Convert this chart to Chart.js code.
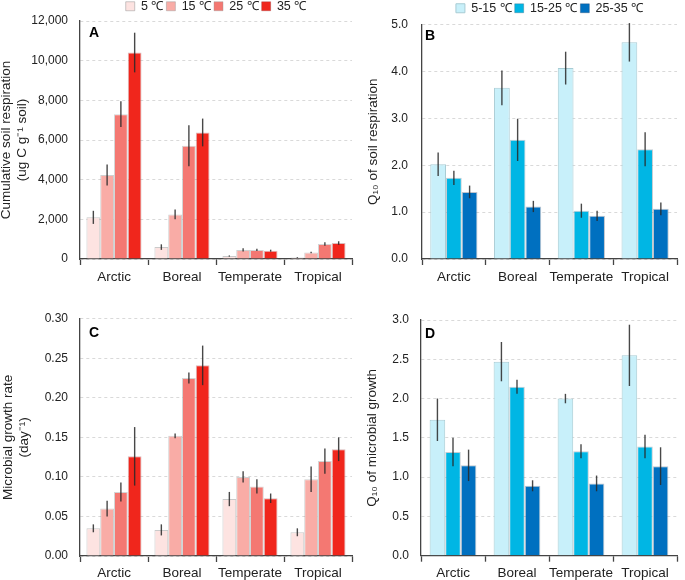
<!DOCTYPE html>
<html>
<head>
<meta charset="utf-8">
<script src="https://cdn.jsdelivr.net/npm/chart.js@4.4.1/dist/chart.umd.min.js"></script>
<style>
  body { margin: 0; background: #fff; }
  #wrap { position: relative; width: 685px; height: 580px; overflow: hidden; }
  canvas { position: absolute; }
</style>
</head>
<body>
<div id="wrap">
  <canvas id="chartA" width="356" height="290" style="left:0px;top:0px"></canvas>
  <canvas id="chartB" width="345" height="290" style="left:340px;top:0px"></canvas>
  <canvas id="chartC" width="356" height="290" style="left:0px;top:290px"></canvas>
  <canvas id="chartD" width="345" height="290" style="left:340px;top:290px"></canvas>
</div>
<script>
const sites = ["Arctic", "Boreal", "Temperate", "Tropical"]
const tempLabels = ["5 ℃", "15 ℃", "25 ℃", "35 ℃"]
const rangeLabels = ["5-15 ℃", "15-25 ℃", "25-35 ℃"]

// A - cumulative soil respiration
const resp5 = [2100, 600, 150, 80]
const resp15 = [4230, 2250, 460, 330]
const resp25 = [7300, 5710, 460, 755]
const resp35 = [10410, 6380, 420, 805]
const respErr5 = [330, 140, 30, 20]
const respErr15 = [530, 250, 80, 40]
const respErr25 = [650, 1030, 60, 90]
const respErr35 = [1000, 700, 50, 90]

// B - Q10 of soil respiration
const q10Resp1 = [2.02, 3.65, 4.07, 4.62]
const q10Resp2 = [1.73, 2.54, 1.03, 2.34]
const q10Resp3 = [1.43, 1.12, 0.92, 1.07]
const q10RespErr1 = [0.25, 0.37, 0.35, 0.41]
const q10RespErr2 = [0.15, 0.45, 0.15, 0.36]
const q10RespErr3 = [0.135, 0.12, 0.11, 0.135]

// C - microbial growth rate
const growth5 = [0.035, 0.033, 0.072, 0.030]
const growth15 = [0.060, 0.152, 0.100, 0.097]
const growth25 = [0.081, 0.225, 0.088, 0.120]
const growth35 = [0.126, 0.241, 0.073, 0.135]
const growthErr5 = [0.005, 0.007, 0.009, 0.005]
const growthErr15 = [0.010, 0.003, 0.007, 0.016]
const growthErr25 = [0.012, 0.007, 0.009, 0.016]
const growthErr35 = [0.037, 0.025, 0.006, 0.015]

// D - Q10 of microbial growth
const q10Growth1 = [1.73, 2.47, 2.00, 2.55]
const q10Growth2 = [1.32, 2.15, 1.33, 1.39]
const q10Growth3 = [1.15, 0.89, 0.92, 1.14]
const q10GrowthErr1 = [0.27, 0.25, 0.06, 0.39]
const q10GrowthErr2 = [0.18, 0.09, 0.09, 0.15]
const q10GrowthErr3 = [0.20, 0.07, 0.10, 0.24]

const reds = ["#FDE3E1", "#F9ACA6", "#F47872", "#F0261C"]
const redBorders = ["rgba(150,150,150,0.5)", "rgba(150,150,150,0.45)", "rgba(150,150,150,0.4)", "rgba(150,60,60,0.35)"]
const blues = ["#C8F0FA", "#00B6E4", "#0070C0"]
const blueBorders = ["#A8CCD4", "rgba(60,90,110,0.3)", "rgba(40,60,90,0.3)"]

const FONT = "Arial, 'Liberation Sans', sans-serif"
Chart.defaults.font.family = FONT
Chart.defaults.color = "#333"

// vertical error bars on top of each bar
const errorBars = {
  id: "errorBars",
  afterDatasetsDraw(chart) {
    const ctx = chart.ctx
    const y = chart.scales.y
    ctx.save()
    ctx.strokeStyle = "rgba(40,40,40,0.85)"
    ctx.lineWidth = 1.4
    chart.data.datasets.forEach((ds, i) => {
      const meta = chart.getDatasetMeta(i)
      meta.data.forEach((bar, j) => {
        const v = ds.data[j], e = ds.errors[j]
        ctx.beginPath()
        ctx.moveTo(bar.x, y.getPixelForValue(v + e))
        ctx.lineTo(bar.x, y.getPixelForValue(v - e))
        ctx.stroke()
      })
    })
    ctx.restore()
  }
}

const panelLetter = {
  id: "panelLetter",
  afterDraw(chart, args, opts) {
    const ctx = chart.ctx
    const a = chart.chartArea
    ctx.save()
    ctx.font = "bold 14px " + FONT
    ctx.fillStyle = "#000"
    ctx.textBaseline = "middle"
    ctx.fillText(opts.text, a.left + opts.dx, a.top + opts.dy)
    ctx.restore()
  }
}

function makeDatasets(labels, values, errors, colors, borders) {
  return labels.map((l, i) => ({
    label: l,
    data: values[i],
    errors: errors[i],
    backgroundColor: colors[i],
    borderColor: borders[i],
    borderWidth: 1
  }))
}

function makeChart(id, p) {
  return new Chart(id, {
    type: "bar",
    data: { labels: sites, datasets: p.datasets },
    plugins: [errorBars, panelLetter],
    options: {
      responsive: false,
      animation: false,
      devicePixelRatio: 1,
      layout: { padding: { left: 0, right: p.padRight, top: p.padTop, bottom: 0 } },
      datasets: { bar: { categoryPercentage: p.catPct, barPercentage: 1.0 } },
      plugins: {
        legend: {
          display: p.legend,
          position: "top",
          fullSize: false,
          maxHeight: p.legendHeight,
          labels: { boxWidth: 9, boxHeight: 9, padding: 3, color: "#222", font: { size: 12.5 } }
        },
        tooltip: { enabled: false },
        panelLetter: { text: p.letter, dx: p.letterDx, dy: p.letterDy }
      },
      scales: {
        x: {
          afterFit: s => { s.height = p.xHeight },
          grid: { offset: true, drawOnChartArea: false, drawTicks: true, tickLength: 6, color: "#444", tickWidth: 1.3 },
          border: { color: "#444", width: 1.3 },
          ticks: { padding: p.xPad, color: "#222", font: { size: 13.5 }, maxRotation: 0, minRotation: 0, autoSkip: false }
        },
        y: {
          min: 0, max: p.max,
          afterFit: s => { s.width = p.yWidth },
          grid: { color: "#d9d9d9", drawTicks: false },
          border: { color: "#444", width: 1.3, dash: [3, 3] },
          ticks: {
            stepSize: p.step, padding: p.yPad, color: "#222", font: { size: 12 },
            callback: v => p.decimals === null ? v.toLocaleString("en-US") : v.toFixed(p.decimals)
          },
          title: {
            display: true, text: p.title, color: "#222",
            font: { size: 13.5, lineHeight: 1.2 },
            padding: { top: p.titlePad, bottom: 0 }
          }
        }
      }
    }
  })
}

makeChart("chartA", {
  datasets: makeDatasets(tempLabels, [resp5, resp15, resp25, resp35],
    [respErr5, respErr15, respErr25, respErr35], reds, redBorders),
  legend: true, legendHeight: 24, padTop: -3, padRight: 4,
  yWidth: 80, xHeight: 31, xPad: 4, yPad: 12, catPct: 0.81,
  max: 12000, step: 2000, decimals: null,
  title: ["Cumulative soil respiration", "(ug C g⁻¹ soil)"], titlePad: -2,
  letter: "A", letterDx: 9, letterDy: 12
})

makeChart("chartB", {
  datasets: makeDatasets(rangeLabels, [q10Resp1, q10Resp2, q10Resp3],
    [q10RespErr1, q10RespErr2, q10RespErr3], blues, blueBorders),
  legend: true, legendHeight: 26, padTop: -1, padRight: 8,
  yWidth: 82, xHeight: 31, xPad: 4, yPad: 14, catPct: 0.74,
  max: 5, step: 1, decimals: 1,
  title: ["Q₁₀ of soil respiration"], titlePad: 25,
  letter: "B", letterDx: 3, letterDy: 12
})

makeChart("chartC", {
  datasets: makeDatasets(tempLabels, [growth5, growth15, growth25, growth35],
    [growthErr5, growthErr15, growthErr25, growthErr35], reds, redBorders),
  legend: false, legendHeight: 0, padTop: 28.7, padRight: 4,
  yWidth: 80, xHeight: 24, xPad: 3, yPad: 12, catPct: 0.81,
  max: 0.3, step: 0.05, decimals: 2,
  title: ["Microbial growth rate", "(day⁻¹)"], titlePad: 0,
  letter: "C", letterDx: 9, letterDy: 14
})

makeChart("chartD", {
  datasets: makeDatasets(rangeLabels, [q10Growth1, q10Growth2, q10Growth3],
    [q10GrowthErr1, q10GrowthErr2, q10GrowthErr3], blues, blueBorders),
  legend: false, legendHeight: 0, padTop: 30, padRight: 8,
  yWidth: 81, xHeight: 24.3, xPad: 3, yPad: 12, catPct: 0.73,
  max: 3, step: 0.5, decimals: 1,
  title: ["Q₁₀ of microbial growth"], titlePad: 24,
  letter: "D", letterDx: 4, letterDy: 14
})
</script>
</body>
</html>
